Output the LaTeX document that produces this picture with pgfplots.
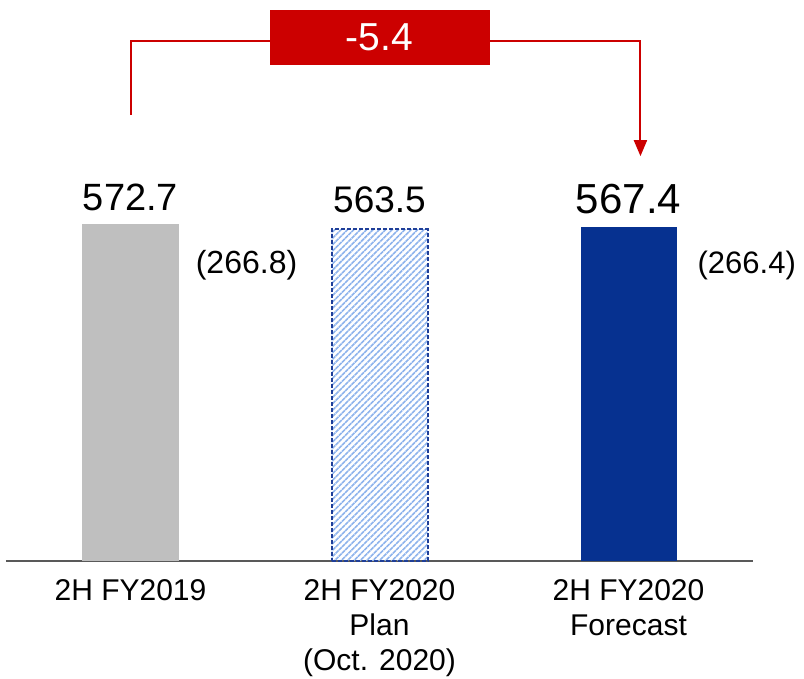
\documentclass[border=0pt]{standalone}
\usepackage{fontspec}
\setmainfont{Liberation Sans}
\usepackage{pgfplots}
\pgfplotsset{compat=1.18}
\usetikzlibrary{patterns.meta,arrows.meta}
\definecolor{barGray}{HTML}{BFBFBF}
\definecolor{barBlue}{HTML}{063190}
\definecolor{hatchBlue}{HTML}{8DB3EC}
\definecolor{borderBlue}{HTML}{1F3F99}
\definecolor{brRed}{HTML}{CC0000}
\definecolor{axGray}{HTML}{595959}
\begin{document}
\begin{tikzpicture}
\useasboundingbox (0,0) rectangle (804pt,679pt);
\begin{axis}[
  at={(6pt,118pt)}, anchor=south west,
  scale only axis, width=747pt, height=400pt,
  xmin=-0.5, xmax=2.5, ymin=0, ymax=679.8,
  axis x line*=bottom, axis y line=none,
  x axis line style={draw=axGray, line width=2pt, -},
  clip=false,
  xtick={0,1,2},
  xticklabels={2H FY2019, 2H FY2020\\Plan\\(Oct. 2020), 2H FY2020\\Forecast},
  xtick style={draw=none},
  xticklabel style={align=center, font=\fontsize{30}{35}\selectfont, yshift=-15pt},
  ytick=\empty,
]
\addplot[ybar, bar width=96pt, bar shift=0pt, fill=barGray, draw=none] coordinates {(0,572.7)};
\addplot[ybar, bar width=96pt, bar shift=0pt, draw=borderBlue, line width=2pt, dash pattern=on 4pt off 2pt,
  pattern={Lines[angle=45,distance=4.5pt,line width=1.6pt]}, pattern color=hatchBlue] coordinates {(1,563.5)};
\addplot[ybar, bar width=96pt, bar shift=0pt, fill=barBlue, draw=none] coordinates {(2,567.4)};

\node[anchor=base, inner sep=0pt, font=\fontsize{38}{40}\selectfont] at (axis cs:0,596.5) {572.7};
\node[anchor=base, inner sep=0pt, font=\fontsize{37}{40}\selectfont] at (axis cs:1,593) {563.5};
\node[anchor=base, inner sep=0pt, font=\fontsize{42}{44}\selectfont] at (axis cs:2,591) {567.4};
\node[anchor=base, inner sep=0pt, font=\fontsize{32}{34}\selectfont] at (axis cs:0.466,488) {(266.8)};
\node[anchor=base west, inner sep=0pt, font=\fontsize{31}{34}\selectfont] at (axis cs:2.277,488) {(266.4)};

\draw[brRed, line width=2pt] (axis cs:0.004,758) -- (axis cs:0.004,883.7) -- (axis cs:1,883.7);
\draw[brRed, line width=2pt, -{Triangle[width=13pt,length=16pt]}] (axis cs:1,883.7) -- (axis cs:2.048,883.7) -- (axis cs:2.048,688);
\node[fill=brRed, minimum width=220pt, minimum height=55pt, inner sep=0pt, text=white, font=\fontsize{39}{40}\selectfont] at (axis cs:1,889.6) {-5.4};
\end{axis}
\end{tikzpicture}
\end{document}
